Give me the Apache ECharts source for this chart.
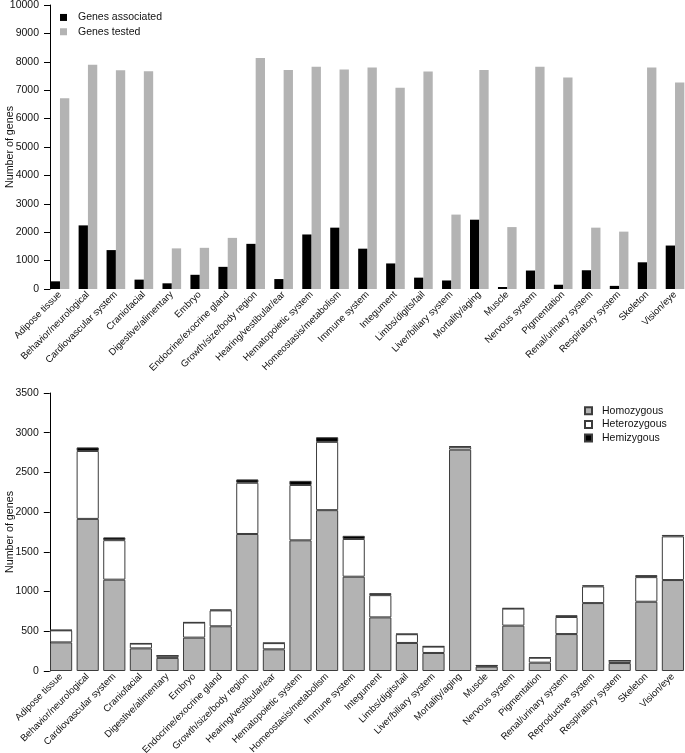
<!DOCTYPE html>
<html>
<head>
<meta charset="utf-8">
<script src="https://cdn.jsdelivr.net/npm/echarts@6/dist/echarts.min.js"></script>
<style>
  html, body { margin: 0; padding: 0; background: #fff; }
  #chart { width: 685px; height: 753px; }
</style>
</head>
<body>
<div id="chart"></div>
<script>
// top panel: genes tested vs associated per phenotype system
const topCategories = [
  'Adipose tissue', 'Behavior/neurological', 'Cardiovascular system', 'Craniofacial',
  'Digestive/alimentary', 'Embryo', 'Endocrine/exocrine gland', 'Growth/size/body region',
  'Hearing/vestibular/ear', 'Hematopoietic system', 'Homeostasis/metabolism', 'Immune system',
  'Integument', 'Limbs/digits/tail', 'Liver/biliary system', 'Mortality/aging', 'Muscle',
  'Nervous system', 'Pigmentation', 'Renal/urinary system', 'Respiratory system',
  'Skeleton', 'Vision/eye'
]
const genesAssociated = [270, 2240, 1370, 330, 200, 500, 780, 1590, 350, 1920, 2160, 1420,
  900, 400, 300, 2440, 70, 650, 150, 660, 110, 940, 1530]
const genesTested = [6720, 7900, 7700, 7670, 1430, 1450, 1800, 8130, 7710, 7830, 7730, 7800,
  7090, 7660, 2620, 7710, 2180, 7830, 7450, 2160, 2020, 7800, 7270]
const topTicks = { min: 0, max: 10000, interval: 1000 }

// bottom panel: zygosity breakdown
const bottomCategories = [
  'Adipose tissue', 'Behavior/neurological', 'Cardiovascular system', 'Craniofacial',
  'Digestive/alimentary', 'Embryo', 'Endocrine/exocrine gland', 'Growth/size/body region',
  'Hearing/vestibular/ear', 'Hematopoietic system', 'Homeostasis/metabolism', 'Immune system',
  'Integument', 'Limbs/digits/tail', 'Liver/biliary system', 'Mortality/aging', 'Muscle',
  'Nervous system', 'Pigmentation', 'Renal/urinary system', 'Reproductive system',
  'Respiratory system', 'Skeleton', 'Vision/eye'
]
const homozygous = [360, 1915, 1150, 285, 165, 420, 563, 1725, 273, 1645, 2025, 1187,
  675, 353, 227, 2787, 55, 571, 105, 465, 855, 100, 872, 1145]
const heterozygous = [152, 855, 497, 60, 27, 190, 200, 645, 78, 697, 860, 475,
  280, 110, 80, 35, 12, 215, 62, 215, 210, 30, 310, 550]
const hemizygous = [5, 45, 35, 3, 3, 3, 10, 42, 3, 52, 58, 40,
  25, 5, 5, 8, 5, 5, 5, 22, 14, 4, 25, 18]
const bottomTicks = { min: 0, max: 3500, interval: 500 }

const FONT = 'Liberation Sans, Arial, sans-serif'
const TEXT = '#111'
const GREY = '#b3b3b3'
const EDGE = '#3c3c3c'

const chart = echarts.init(document.getElementById('chart'), null, { renderer: 'canvas' })

const yAxisBase = (ticks, offset, idx) => ({
  type: 'value',
  gridIndex: idx,
  min: ticks.min,
  max: ticks.max,
  interval: ticks.interval,
  offset: offset,
  name: 'Number of genes',
  nameLocation: 'middle',
  nameGap: 34,
  nameMoveOverlap: false,
  nameTextStyle: { fontFamily: FONT, fontSize: 10.7, color: TEXT },
  axisLine: { show: true, lineStyle: { color: '#000', width: 1 } },
  axisTick: { show: true, length: 6, lineStyle: { color: '#000' } },
  axisLabel: {
    fontFamily: FONT, fontSize: 10.5, color: TEXT, margin: 11,
    formatter: v => String(v)
  },
  splitLine: { show: false }
})

const xAxisBase = (cats, idx) => ({
  type: 'category',
  gridIndex: idx,
  data: cats,
  axisLine: { show: false },
  axisTick: { show: false },
  axisLabel: { interval: 0, rotate: 45, fontFamily: FONT, fontSize: 9.6, color: TEXT, margin: 4 }
})

const option = {
  backgroundColor: '#fff',
  animation: false,
  grid: [
    { left: 46, width: 643, top: 5, height: 284, outerBoundsMode: 'none' },
    { left: 47.8, width: 638.4, top: 393, height: 278, outerBoundsMode: 'none' }
  ],
  legend: [
    {
      data: ['Genes associated', 'Genes tested'],
      orient: 'vertical',
      left: 60, top: 10.3, padding: 0,
      icon: 'rect', itemWidth: 7, itemHeight: 7, itemGap: 0,
      textStyle: { fontFamily: FONT, fontSize: 10.5, lineHeight: 14.3, color: TEXT, padding: [0, 0, 0, 6] }
    },
    {
      data: ['Homozygous', 'Heterozygous', 'Hemizygous'],
      orient: 'vertical',
      left: 584, top: 404, padding: 0,
      icon: 'rect', itemWidth: 7, itemHeight: 7, itemGap: 0,
      textStyle: { fontFamily: FONT, fontSize: 10.5, lineHeight: 13.6, color: TEXT, padding: [0, 0, 0, 5] }
    }
  ],
  xAxis: [xAxisBase(topCategories, 0), xAxisBase(bottomCategories, 1)],
  yAxis: [yAxisBase(topTicks, -4, 0), yAxisBase(bottomTicks, -2, 1)],
  series: [
    {
      name: 'Genes associated', type: 'bar', xAxisIndex: 0, yAxisIndex: 0,
      data: genesAssociated, barGap: '0%', barCategoryGap: '33.3%',
      itemStyle: { color: '#000' }
    },
    {
      name: 'Genes tested', type: 'bar', xAxisIndex: 0, yAxisIndex: 0,
      data: genesTested, barGap: '0%', barCategoryGap: '33.3%',
      itemStyle: { color: GREY }
    },
    {
      name: 'Homozygous', type: 'bar', xAxisIndex: 1, yAxisIndex: 1, stack: 'zyg',
      data: homozygous, barCategoryGap: '16.7%',
      itemStyle: { color: GREY, borderColor: EDGE, borderWidth: 1 }
    },
    {
      name: 'Heterozygous', type: 'bar', xAxisIndex: 1, yAxisIndex: 1, stack: 'zyg',
      data: heterozygous, barCategoryGap: '16.7%',
      itemStyle: { color: '#fff', borderColor: EDGE, borderWidth: 1 }
    },
    {
      name: 'Hemizygous', type: 'bar', xAxisIndex: 1, yAxisIndex: 1, stack: 'zyg',
      data: hemizygous, barCategoryGap: '16.7%',
      itemStyle: { color: '#000', borderColor: EDGE, borderWidth: 1 }
    }
  ]
}

chart.setOption(option)
</script>
</body>
</html>
